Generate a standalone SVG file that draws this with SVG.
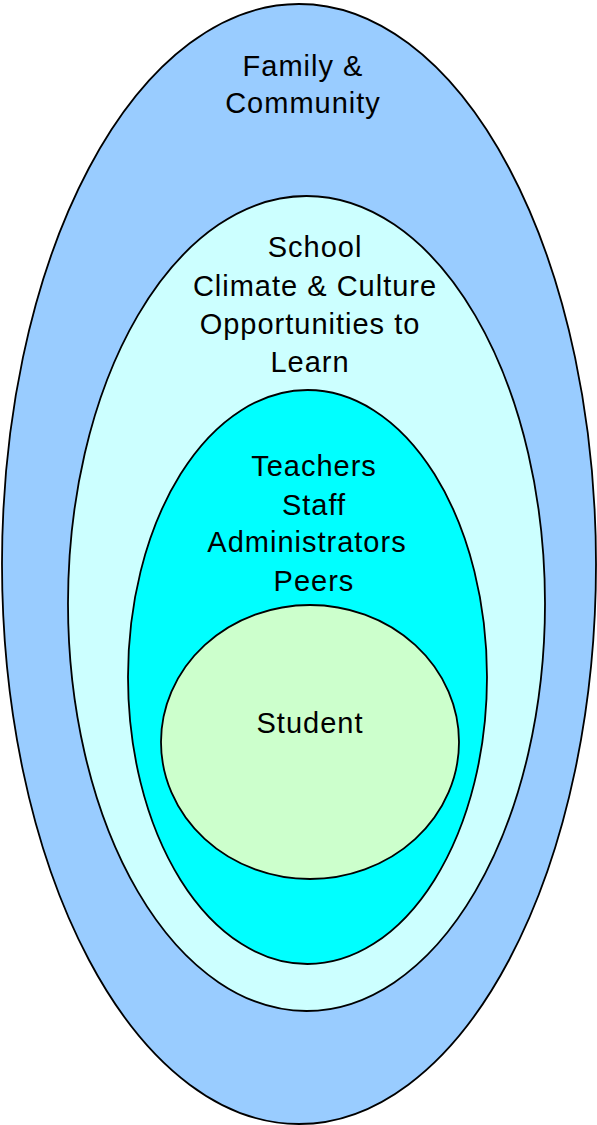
<svg xmlns="http://www.w3.org/2000/svg" width="597" height="1125" viewBox="0 0 597 1125">
<style>
.ring{stroke:#000;stroke-width:1.8}
.t{font-family:"Liberation Sans",Arial,sans-serif;font-size:29px;fill:#000;text-anchor:middle;letter-spacing:1px}
</style>
<rect width="597" height="1125" fill="#fff"/>
<g id="family">
<ellipse class="ring" cx="299" cy="564" rx="297" ry="560" fill="#99CCFF"/>
<text class="t" x="303" y="76">Family &amp;</text>
<text class="t" x="303" y="113">Community</text>
</g>
<g id="school">
<ellipse class="ring" cx="306.5" cy="603.5" rx="238.5" ry="407.5" fill="#CCFFFF"/>
<text class="t" x="315" y="257">School</text>
<text class="t" x="315" y="296">Climate &amp; Culture</text>
<text class="t" x="310" y="334">Opportunities to</text>
<text class="t" x="310" y="372">Learn</text>
</g>
<g id="people">
<ellipse class="ring" cx="307.5" cy="677" rx="179.5" ry="287" fill="#00FFFF"/>
<text class="t" x="314" y="476">Teachers</text>
<text class="t" x="314" y="515">Staff</text>
<text class="t" x="307" y="552">Administrators</text>
<text class="t" x="314" y="591">Peers</text>
</g>
<g id="student">
<ellipse class="ring" cx="310" cy="742" rx="149" ry="137" fill="#CCFFCC"/>
<text class="t" x="310" y="733">Student</text>
</g>
<g id="connectors"></g>
</svg>
